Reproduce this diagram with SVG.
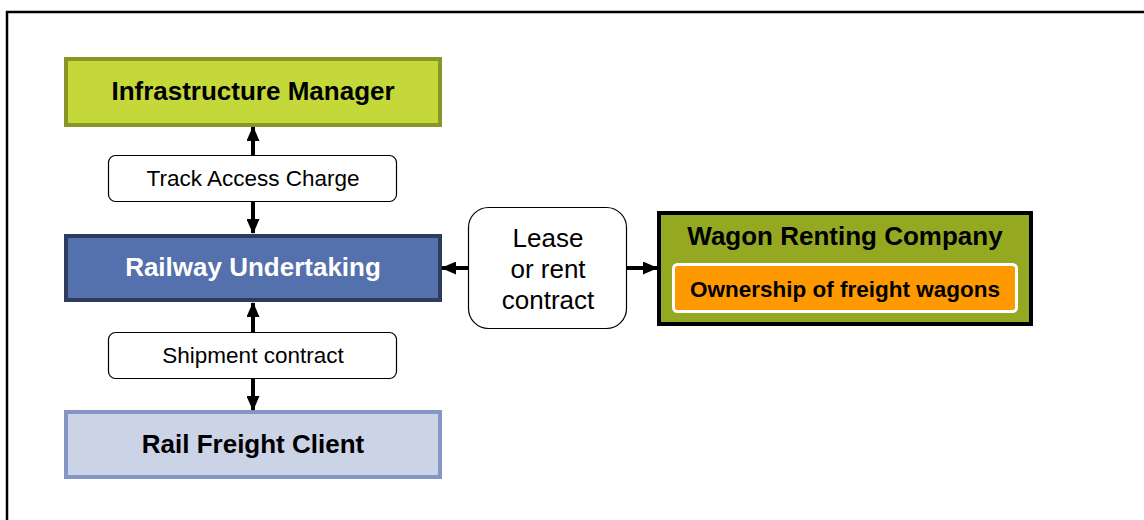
<svg xmlns="http://www.w3.org/2000/svg" width="1144" height="520" viewBox="0 0 1144 520">
<style>
text{font-family:"Liberation Sans",Arial,sans-serif;text-anchor:middle;dominant-baseline:central}
.b{font-weight:bold}
.lbl{fill:#fff;stroke:#000;stroke-width:1.2}
.conn line{stroke:#000;stroke-width:4}
</style>
<defs>
<marker id="ah" viewBox="0 0 15 13" refX="14" refY="6.5" markerWidth="15" markerHeight="13" markerUnits="userSpaceOnUse" orient="auto">
<path d="M0,0 L15,6.5 L0,13 Z" fill="#000"/>
</marker>
</defs>
<rect width="1144" height="520" fill="#fff"/>
<path d="M7,530 V12 H1150" fill="none" stroke="#000" stroke-width="2.5"/>
<g id="infrastructure-manager">
<rect x="66" y="59" width="374" height="66" fill="#c4d83a" stroke="#879626" stroke-width="4"/>
<text x="253" y="91" class="b" font-size="26">Infrastructure Manager</text>
</g>
<g id="track-access-charge">
<rect class="lbl" x="108.5" y="155.5" width="288" height="46" rx="7"/>
<text x="253" y="178" font-size="22.5">Track Access Charge</text>
</g>
<g id="railway-undertaking">
<rect x="66" y="236" width="374" height="64" fill="#5470ad" stroke="#2d3b5e" stroke-width="4"/>
<text x="253" y="267" class="b" font-size="26" fill="#fff">Railway Undertaking</text>
</g>
<g id="shipment-contract">
<rect class="lbl" x="108.5" y="332.5" width="288" height="46" rx="7"/>
<text x="253" y="355" font-size="22.5">Shipment contract</text>
</g>
<g id="rail-freight-client">
<rect x="66" y="412" width="374" height="65" fill="#cbd3e6" stroke="#8497c4" stroke-width="4"/>
<text x="253" y="444" class="b" font-size="26">Rail Freight Client</text>
</g>
<g id="lease-contract">
<rect class="lbl" x="468.5" y="207.5" width="158" height="121" rx="20"/>
<text x="548" y="238" font-size="26">Lease</text>
<text x="548" y="269" font-size="26">or rent</text>
<text x="548" y="300" font-size="26">contract</text>
</g>
<g id="wagon-renting-company">
<rect x="659" y="213" width="372" height="111" fill="#94a822" stroke="#000" stroke-width="4"/>
<text x="845" y="236" class="b" font-size="26">Wagon Renting Company</text>
<rect x="673.5" y="264.5" width="343" height="47" rx="4" fill="#ff9900" stroke="#fff" stroke-width="3"/>
<text x="845" y="289" class="b" font-size="22.5">Ownership of freight wagons</text>
</g>
<g id="connectors" class="conn">
<line x1="253" y1="155" x2="253" y2="127" marker-end="url(#ah)"/>
<line x1="253" y1="202" x2="253" y2="233" marker-end="url(#ah)"/>
<line x1="253" y1="332" x2="253" y2="303" marker-end="url(#ah)"/>
<line x1="253" y1="379" x2="253" y2="410" marker-end="url(#ah)"/>
<line x1="468" y1="268" x2="442" y2="268" marker-end="url(#ah)"/>
<line x1="627" y1="268" x2="657" y2="268" marker-end="url(#ah)"/>
</g>
</svg>
